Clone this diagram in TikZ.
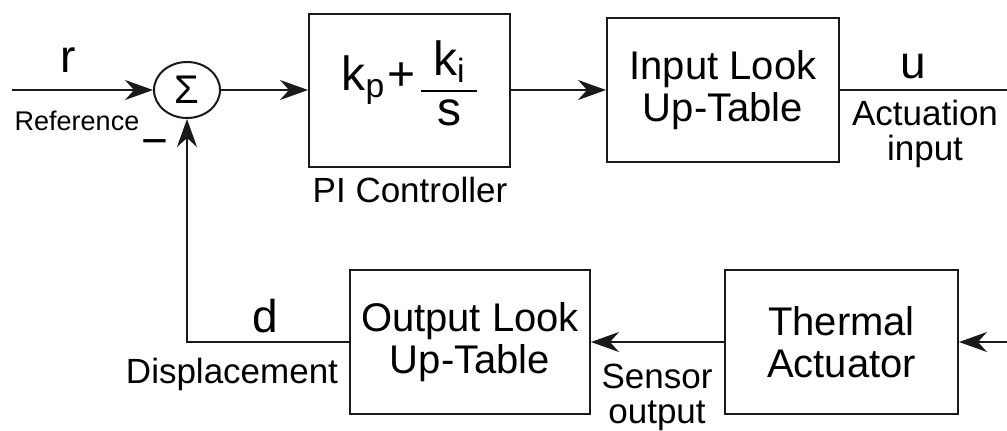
\documentclass[tikz,border=0pt]{standalone}
\usepackage{fontspec}
\setmainfont{Liberation Sans}
\usetikzlibrary{
  arrows.meta,
  positioning,
  shapes.geometric
}
\definecolor{bdInk}{HTML}{1A1A1A}
\newcommand{\pifrac}[2]{\raisebox{-6pt}{\setlength{\arrayrulewidth}{1pt}%
  \begin{tabular}{@{}c@{}}\makebox[28pt]{#1}\\\hline #2\end{tabular}}}
\tikzset{
  bdnode/.style={
    draw=bdInk, line width=1pt, align=center, inner sep=0pt,
    font=\fontsize{20}{21}\selectfont
  },
  block/.style={bdnode, minimum width=116.5pt, minimum height=72pt},
  sumnode/.style={bdnode, ellipse, minimum width=33pt, minimum height=28pt},
  sigline/.style={line width=1pt, bdInk},
  sigarrow/.style={sigline, -{Stealth[length=14pt, width=10pt, inset=4.5pt]}},
  signame/.style={font=\fontsize{23}{23}\selectfont, anchor=base, inner sep=0pt},
  tag/.style={font=\fontsize{17.5}{17.5}\selectfont, align=center, anchor=base, inner sep=0pt},
  reftag/.style={font=\fontsize{13.5}{13.5}\selectfont, anchor=base, inner sep=0pt}
}

\begin{document}
\begin{tikzpicture}[x=0.5pt, y=-0.5pt]
  \useasboundingbox (0,0) rectangle (1007,430);
  % forward path
  \coordinate (rin) at (12,90);
  \node[sumnode] (sum) at (187,90) {Σ};
  \node[block, minimum width=100.5pt, minimum height=76.5pt, right=43.5pt of sum,
    font=\fontsize{24}{24}\selectfont] (ctrl)
    {k\textsubscript{p}\hspace{1pt}+\hspace{3pt}\pifrac{k\textsubscript{i}}{s}};
  \node[block, minimum width=116pt, right=47.5pt of ctrl] (inlut) {Input Look\\Up-Table};
  \coordinate (uend) at (1007,90);
  % feedback path
  \node[block] (therm) at (841.5,342) {Thermal\\Actuator};
  \node[block, minimum width=120pt, left=66.5pt of therm] (outlut) {Output Look\\Up-Table};
  \coordinate (thin) at (1007,342);

  \draw[sigarrow] (rin) -- (sum);
  \draw[sigarrow] (sum) -- (ctrl);
  \draw[sigarrow] (ctrl) -- (inlut);
  \draw[sigline] (inlut) -- (uend);
  \draw[sigarrow] (thin) -- (therm);
  \draw[sigarrow] (therm) -- (outlut);
  \draw[sigarrow] (outlut) -| (sum);

  % labels
  \node[signame] (rlbl) at (68,72) {r};
  \node[reftag] (reflbl) at (77,130) {Reference};
  \node[signame] (minus) at (155,156) {−};
  \node[tag] (ctrllbl) at (410,202) {PI Controller};
  \node[signame] (ulbl) at (913,78) {u};
  \node[tag] (actlbl) at (925,160) {Actuation\\input};
  \node[signame] (dlbl) at (265,332) {d};
  \node[tag] (displbl) at (232,383) {Displacement};
  \node[tag] (senslbl) at (657,423) {Sensor\\output};
\end{tikzpicture}
\end{document}
